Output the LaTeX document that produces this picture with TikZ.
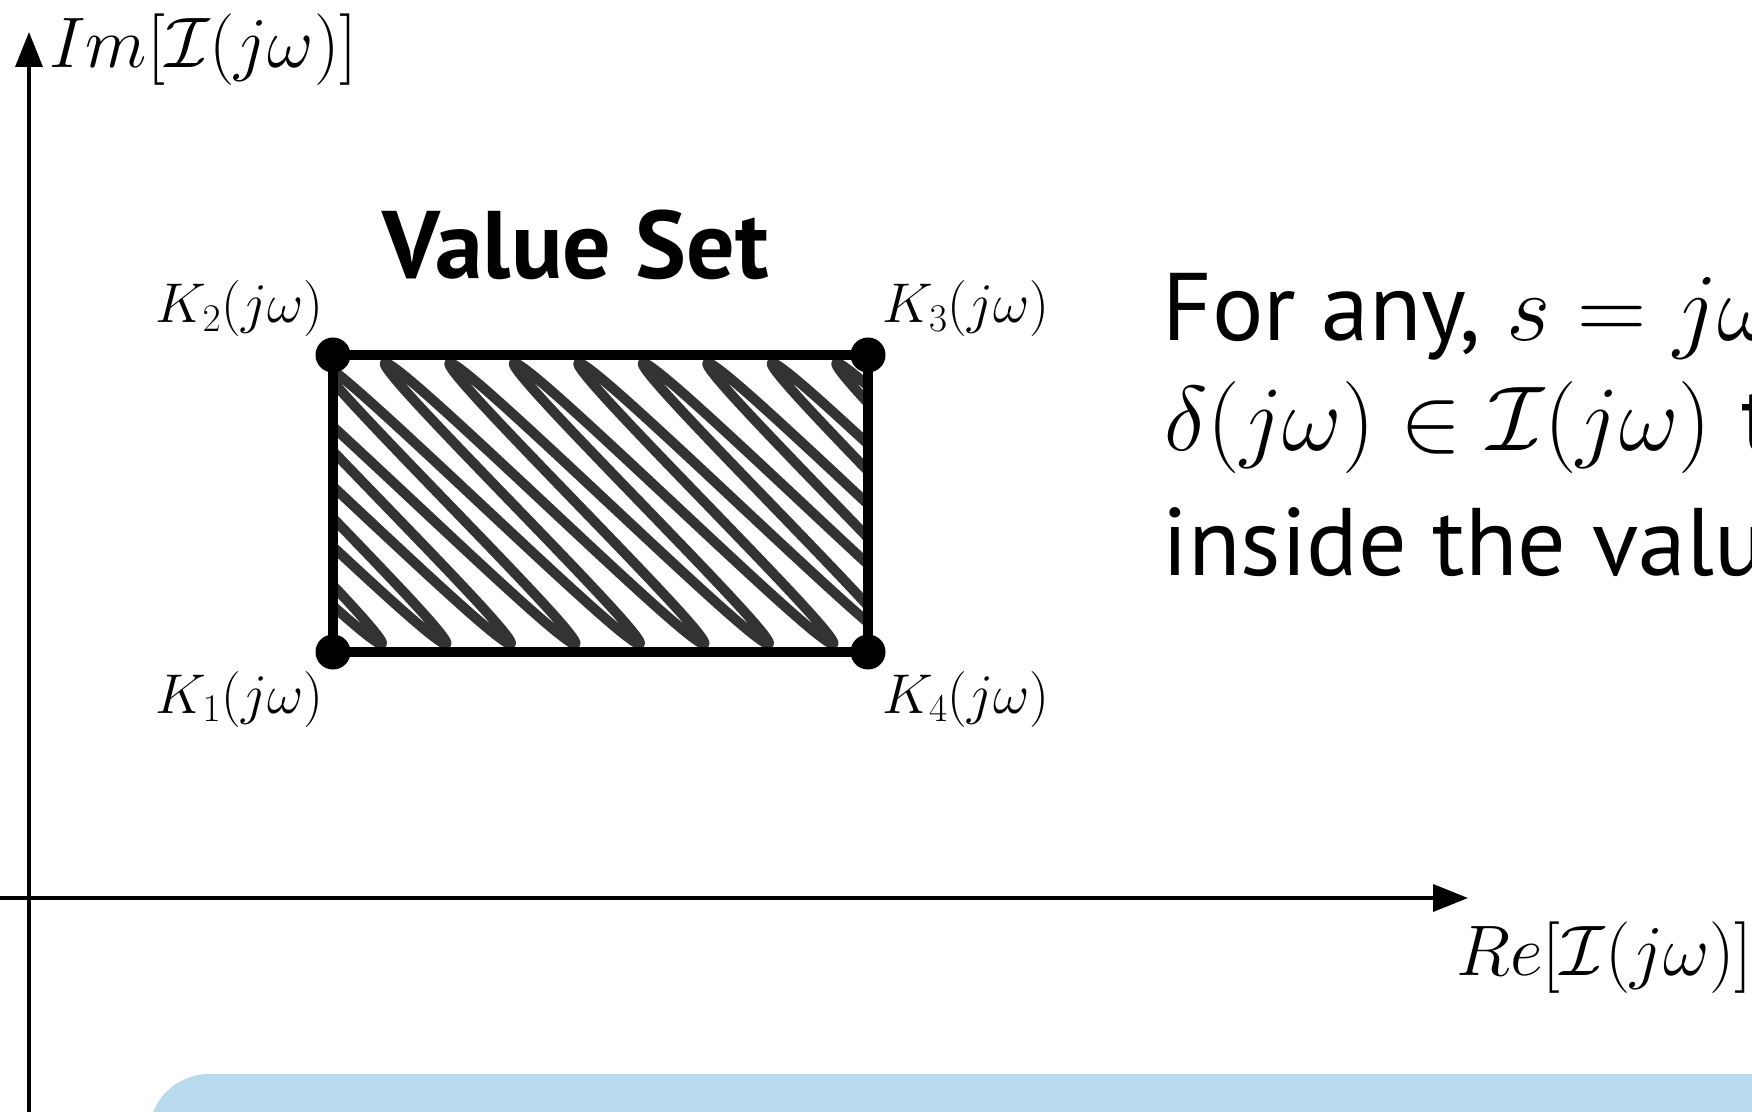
\RequirePackage{fix-cm}
\documentclass[tikz,border=0pt]{standalone}
\usepackage[no-math]{fontspec}
\newfontfamily\ptsans{PT Sans}
\usetikzlibrary{arrows.meta}
\definecolor{scribgray}{RGB}{51,51,51}
\definecolor{boxblue}{RGB}{184,218,237}
\begin{document}
\begin{tikzpicture}[x=0.5pt,y=-0.5pt,
  declare function={ax(\t)=0.7*cos(\t)+0.0375*(9*cos(\t)-cos(3*\t));
                    dr(\t)=\t/360+0.1*sin(2*\t)/6.2832;},
  axis/.style={line width=1.8pt,-{Triangle[length=17.5pt,width=13.5pt]}},
  border/.style={line width=4.75pt,line join=miter},
  scrib/.style={scribgray,line width=5pt,line join=round,line cap=round},
  corner/.style={circle,fill=black,minimum size=17.5pt,inner sep=0pt},
  axlabel/.style={inner sep=0pt,anchor=base west,font=\fontsize{35.8}{43}\selectfont},
  klabel/.style={inner sep=0pt,anchor=base,font=\fontsize{28}{34}\selectfont},
  body/.style={inner sep=0pt,anchor=base west,font=\ptsans\fontsize{48}{58}\selectfont},
  title/.style={inner sep=0pt,anchor=base,font=\ptsans\bfseries\fontsize{48}{58}\selectfont}]
\useasboundingbox (0,0) rectangle (1752,1112);
\clip (0,0) rectangle (1752,1112);
% blue box at the bottom
\fill[boxblue,rounded corners=30pt] (149,1074) rectangle (1950,1400);
% axes
\coordinate (yb) at (29,1112);
\coordinate (yt) at (29,32);
\coordinate (xl) at (0,898);
\coordinate (xr) at (1468,898);
\draw[axis] (yb) -- (yt);
\draw[axis] (xl) -- (xr);
\node[axlabel] (imlab) at (49,68) {$Im[\mathcal{I}(j\omega)]$};
\node[axlabel] (relab) at (1456,975) {$Re[\mathcal{I}(j\omega)]$};
% value set rectangle
\coordinate (k1) at (333,652);
\coordinate (k2) at (333,355);
\coordinate (k3) at (868,355);
\coordinate (k4) at (868,652);
\begin{scope}
  \clip (k2) rectangle (k4);
  \draw[scrib] plot[domain=-2160:2880,samples=1009]
    ({528.5+64.5*dr(\x)-143*ax(\x)},{503.5-140.5*ax(\x)});
\end{scope}
\draw[border] (k1) -- (k2) -- (k3) -- (k4) -- cycle;
\node[corner] (d1) at (k1) {};
\node[corner] (d2) at (k2) {};
\node[corner] (d3) at (k3) {};
\node[corner] (d4) at (k4) {};
\node[klabel] (l2) at (239.5,323) {$K_2(j\omega)$};
\node[klabel] (l3) at (966,323) {$K_3(j\omega)$};
\node[klabel] (l1) at (239.5,713) {$K_1(j\omega)$};
\node[klabel] (l4) at (966,713) {$K_4(j\omega)$};
\node[title] (vs) at (576,279) {Value Set};
% explanatory text (runs off the right edge)
\node[body] (t1) at (1162,341) {For any, $s=j\omega$};
\node[body,font=\ptsans\fontsize{46}{56}\selectfont] (t2) at (1164,451) {$\delta(j\omega)\in\mathcal{I}(j\omega)$\hspace{0.33em}t};
\node[body] (t3) at (1162,575) {inside the valu};
\end{tikzpicture}
\end{document}
